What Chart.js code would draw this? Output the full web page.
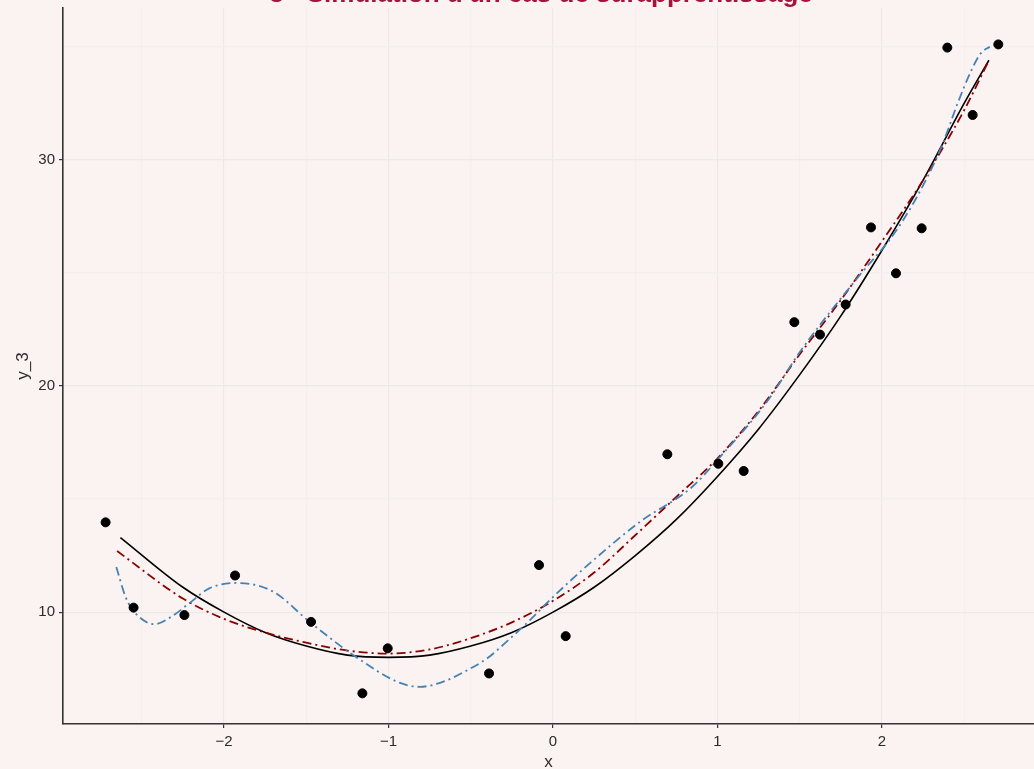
<!DOCTYPE html>
<html>
<head>
<meta charset="utf-8">
<script src="https://cdn.jsdelivr.net/npm/chart.js@4/dist/chart.umd.min.js"></script>
<style>
  html, body { margin: 0; padding: 0; background: #FAF3F1; overflow: hidden; }
  #wrap { width: 1034px; height: 769px; }
  #c { display: block; }
</style>
</head>
<body>
<div id="wrap"><canvas id="c" width="1034" height="769"></canvas></div>
<script>
// observed points
const obsX = [-2.72, -2.55, -2.241, -1.933, -1.471, -1.159, -1.005, -0.389, -0.085, 0.077, 0.695, 1.005, 1.159, 1.467, 1.623, 1.779, 1.933, 2.085, 2.241, 2.397, 2.551, 2.707];
const obsY = [13.97, 10.2, 9.87, 11.62, 9.57, 6.41, 8.40, 7.29, 12.08, 8.94, 16.98, 16.56, 16.24, 22.82, 22.27, 23.6, 27.01, 24.98, 26.97, 34.96, 31.98, 35.1];

// true curve (black, solid)
const trueX = [-2.63, -2.25, -2.0, -1.75, -1.5, -1.25, -1.0, -0.75, -0.5, -0.25, 0, 0.25, 0.5, 0.75, 1.0, 1.25, 1.5, 1.75, 2.0, 2.25, 2.5, 2.65];
const trueY = [13.3, 11.1, 10.0, 9.1, 8.5, 8.1, 8.0, 8.1, 8.5, 9.1, 10.0, 11.1, 12.5, 14.1, 16.0, 18.1, 20.5, 23.1, 26.0, 29.1, 32.5, 34.4];

// degree 2 fit (dark red, dot-dash)
const fit2X = [-2.65, -2.25, -2.0, -1.75, -1.5, -1.25, -1.0, -0.75, -0.5, -0.25, 0, 0.25, 0.5, 0.75, 1.0, 1.25, 1.5, 1.75, 2.0, 2.25, 2.5, 2.65];
const fit2Y = [12.7, 10.6, 9.7, 9.1, 8.65, 8.3, 8.17, 8.35, 8.85, 9.55, 10.5, 11.75, 13.4, 15.1, 16.8, 18.9, 21.4, 23.8, 26.4, 29.1, 32.2, 34.4];

// overfitted curve (steelblue, dot-dash)
const overX = [-2.655, -2.6, -2.56, -2.47, -2.42, -2.32, -2.21, -2.09, -1.92, -1.7, -1.48, -1.2, -0.93, -0.81, -0.67, -0.52, -0.40, -0.26, -0.14, -0.02, 0.23, 0.53, 0.84, 1.02, 1.3, 1.51, 1.87, 2.06, 2.2, 2.36, 2.46, 2.54, 2.6, 2.655];
const overY = [12.0, 10.7, 10.15, 9.55, 9.47, 9.8, 10.4, 11.05, 11.29, 10.9, 9.57, 8.03, 6.87, 6.70, 6.92, 7.44, 7.96, 8.84, 9.65, 10.53, 12.2, 14.0, 15.5, 16.9, 19.3, 21.6, 24.95, 26.6, 28.2, 30.55, 32.5, 33.9, 34.7, 35.0];

// ticks
const xTicks = [-2.5, -2, -1.5, -1, -0.5, 0, 0.5, 1, 1.5, 2, 2.5];
const yTicks = [10, 15, 20, 25, 30, 35];
const xLabels = [-2, -1, 0, 1, 2];
const yLabels = [10, 20, 30];

const title = "3 - Simulation d'un cas de surapprentissage";

const zip = (xs, ys) => xs.map((x, i) => ({ x: x, y: ys[i] }));
const minus = v => String(v).replace("-", "\u2212");
const FONT = "'Liberation Sans', Arial, sans-serif";

const bgPlugin = {
    id: "bg",
    afterLayout(chart) {
        // panel runs to the right edge of the canvas
        const a = chart.chartArea;
        a.right = chart.width;
        a.width = a.right - a.left;
        const s = chart.scales.x;
        s.right = chart.width;
        s.width = s.right - s.left;
        s.configure();
    },
    beforeDraw(chart) {
        const ctx = chart.ctx;
        ctx.save();
        ctx.fillStyle = "#FAF3F1";
        ctx.fillRect(0, 0, chart.width, chart.height);
        ctx.restore();
    },
    afterDraw(chart) {
        // title sits mostly above the canvas, like in the reference
        const ctx = chart.ctx;
        ctx.save();
        ctx.fillStyle = "#A5123A";
        ctx.font = "bold 26px " + FONT;
        ctx.textAlign = "center";
        ctx.textBaseline = "alphabetic";
        ctx.fillText(title, 541, 2);
        ctx.restore();
    }
};

const isMajor = ctx => {
    const v = ctx.tick ? ctx.tick.value : 0;
    return ctx.scale.axis === "x" ? Number.isInteger(v) : v % 10 === 0;
};
const gridColor = ctx => isMajor(ctx) ? "#EBE9E9" : "#F2EFEE";
const tickColor = ctx => isMajor(ctx) ? "#333333" : "rgba(0,0,0,0)";

new Chart(document.getElementById("c"), {
    type: "scatter",
    data: {
        datasets: [
            {
                label: "obs",
                data: zip(obsX, obsY),
                backgroundColor: "#000",
                borderColor: "#000",
                pointRadius: 4.5,
                showLine: false,
                order: 0
            },
            {
                type: "line",
                label: "true",
                data: zip(trueX, trueY),
                borderColor: "#000",
                borderWidth: 1.6,
                pointRadius: 0,
                fill: false,
                cubicInterpolationMode: "monotone",
                order: 3
            },
            {
                type: "line",
                label: "fit2",
                data: zip(fit2X, fit2Y),
                borderColor: "#8B0000",
                borderWidth: 1.8,
                borderDash: [9, 4, 2, 4],
                pointRadius: 0,
                fill: false,
                cubicInterpolationMode: "monotone",
                order: 2
            },
            {
                type: "line",
                label: "over",
                data: zip(overX, overY),
                borderColor: "#4682B4",
                borderWidth: 1.8,
                borderDash: [9, 4, 2, 4],
                pointRadius: 0,
                fill: false,
                cubicInterpolationMode: "monotone",
                order: 1
            }
        ]
    },
    options: {
        responsive: false,
        animation: false,
        devicePixelRatio: 1,
        layout: { padding: { top: 8, right: 0, left: 0, bottom: 0 } },
        plugins: { legend: { display: false }, tooltip: { enabled: false }, title: { display: false } },
        scales: {
            x: {
                type: "linear",
                min: -2.979,
                max: 2.924,
                afterBuildTicks: s => { s.ticks = xTicks.map(v => ({ value: v })); },
                afterFit: s => { s.height = 45; s.paddingLeft = 0; s.paddingRight = 0; },
                grid: { color: gridColor, lineWidth: 1.2, tickColor: tickColor, tickLength: 4, tickWidth: 1.2 },
                border: { display: true, color: "#333333", width: 1.6 },
                ticks: {
                    autoSkip: false,
                    maxRotation: 0,
                    padding: 5,
                    color: "#2b2b2b",
                    font: { family: FONT, size: 15 },
                    callback: v => xLabels.includes(v) ? minus(v) : ""
                },
                title: {
                    display: true,
                    text: "x",
                    color: "#2b2b2b",
                    font: { family: FONT, size: 17 },
                    padding: { top: 0, bottom: -4 }
                }
            },
            y: {
                type: "linear",
                min: 5.055,
                max: 36.71,
                afterBuildTicks: s => { s.ticks = yTicks.map(v => ({ value: v })); },
                afterFit: s => { s.width = 63; s.paddingTop = 0; s.paddingBottom = 0; },
                grid: { color: gridColor, lineWidth: 1.2, tickColor: tickColor, tickLength: 4, tickWidth: 1.2 },
                border: { display: true, color: "#333333", width: 1.6 },
                ticks: {
                    autoSkip: false,
                    padding: 4,
                    color: "#2b2b2b",
                    font: { family: FONT, size: 15 },
                    callback: v => yLabels.includes(v) ? String(v) : ""
                },
                title: {
                    display: true,
                    text: "y_3",
                    color: "#2b2b2b",
                    font: { family: FONT, size: 17 },
                    padding: { top: 13, bottom: 0 }
                }
            }
        }
    },
    plugins: [bgPlugin]
});
</script>
</body>
</html>
